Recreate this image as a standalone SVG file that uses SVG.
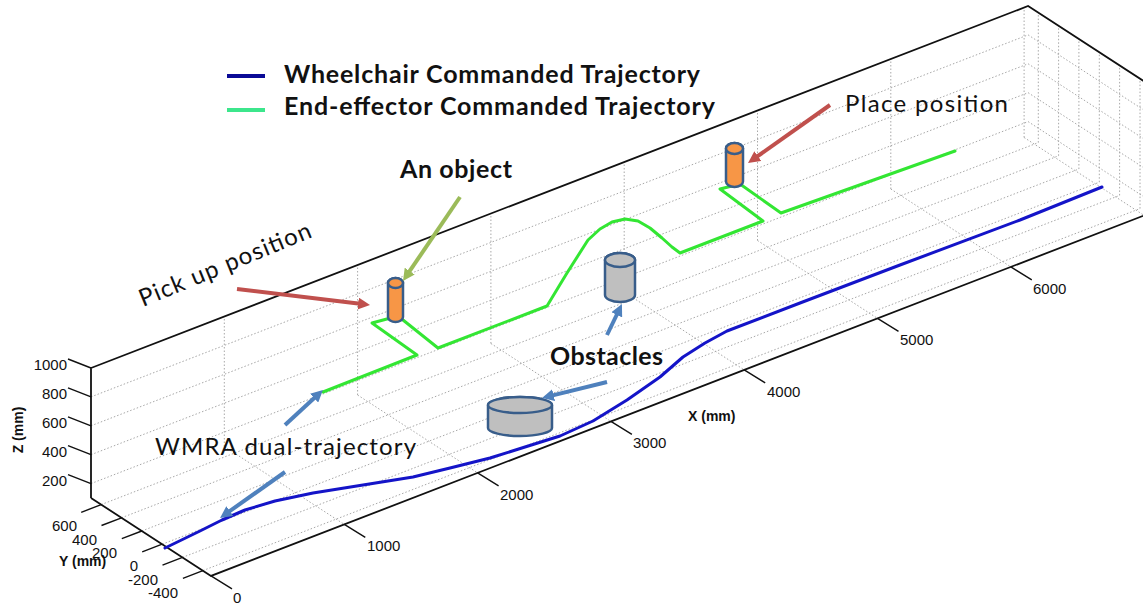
<svg xmlns="http://www.w3.org/2000/svg" width="1143" height="609" viewBox="0 0 1143 609">
  <style>
    .grid { fill: none; stroke: #a8a8a8; stroke-width: 1; stroke-dasharray: 1.5 2; }
    .edge { fill: none; stroke: #111; stroke-width: 1.8; }
    .tick { fill: none; stroke: #111; stroke-width: 1.4; }
    .num { font-family: "Liberation Sans", Arial, sans-serif; font-size: 15px; fill: #111; }
    .axlab { font-family: "Liberation Sans", Arial, sans-serif; font-size: 14px; font-weight: bold; fill: #111; }
    .note { font-family: Lato, "Open Sans", sans-serif; font-size: 24px; fill: #111; }
    .noteb { font-family: Lato, "Open Sans", sans-serif; font-size: 25px; font-weight: bold; fill: #111; }
    .traj { fill: none; stroke-width: 3; stroke-linejoin: round; stroke-linecap: round; }
    .arrow { fill: none; stroke-width: 4; stroke-linecap: butt; }
    .cyl { stroke: #385d8a; stroke-width: 2.5; stroke-linejoin: round; }
  </style>
  <defs>
    <marker id="headBlue" viewBox="0 0 3 3" refX="0.5" refY="1.5" markerWidth="3" markerHeight="3" orient="auto">
      <path d="M0,0 L3,1.5 L0,3 z" fill="#4f81bd"/>
    </marker>
    <marker id="headRed" viewBox="0 0 3 3" refX="0.5" refY="1.5" markerWidth="3" markerHeight="3" orient="auto">
      <path d="M0,0 L3,1.5 L0,3 z" fill="#c0504d"/>
    </marker>
    <marker id="headGreen" viewBox="0 0 3 3" refX="0.5" refY="1.5" markerWidth="3" markerHeight="3" orient="auto">
      <path d="M0,0 L3,1.5 L0,3 z" fill="#9bbb59"/>
    </marker>
  </defs>

  <rect width="1143" height="609" fill="#fff"/>

  <!-- dotted grid on back wall, floor and right wall -->
  <g id="grid">
    <path class="grid" d="M224.3,446.5V316.5 M357.6,395V265 M490.9,343.5V213.5 M624.2,292V162 M757.5,240.5V110.5 M890.8,189V59 M1024.1,137.5V7.5"/>
    <path class="grid" d="M91,483.6L1028.1,121.6 M91,454.7L1028.1,92.7 M91,425.8L1028.1,63.8 M91,396.9L1028.1,34.9"/>
    <path class="grid" d="M101.2,504.6L1038.3,142.6 M121.5,517.8L1058.6,155.8 M141.8,531L1078.9,169 M162.2,544.2L1099.3,182.2 M182.5,557.4L1119.6,195.4 M202.9,570.6L1140,208.6"/>
    <path class="grid" d="M224.3,446.5L344.3,524.4 M357.6,395L477.6,472.9 M490.9,343.5L610.9,421.4 M624.2,292L744.2,369.9 M757.5,240.5L877.5,318.4 M890.8,189L1010.8,266.9 M1024.1,137.5L1144.1,215.4"/>
    <path class="grid" d="M1038.3,142.6V12.6 M1058.6,155.8V25.8 M1078.9,169V39 M1099.3,182.2V52.2 M1119.6,195.4V65.4 M1140,208.6V78.6"/>
    <path class="grid" d="M1028.1,121.6L1148.1,199.5 M1028.1,92.7L1148.1,170.6 M1028.1,63.8L1148.1,141.7 M1028.1,34.9L1148.1,112.8"/>
  </g>

  <!-- axes box -->
  <g id="axes">
    <path class="edge" d="M91,498V368 L1028.1,6 L1148.1,83.9"/>
    <path class="edge" d="M91,498L211,575.9L1148.1,213.9"/>
    <path class="tick" d="M91,483.6l-23,-9 M91,454.7l-23,-9 M91,425.8l-23,-9 M91,396.9l-23,-9 M91,368l-23,-9"/>
    <path class="tick" d="M101.2,504.6l-20,7.7 M121.5,517.8l-20,7.7 M141.8,531l-20,7.7 M162.2,544.2l-20,7.7 M182.5,557.4l-20,7.7 M202.9,570.6l-20,7.7"/>
    <path class="tick" d="M211,575.9l21,13 M344.3,524.4l21,13 M477.6,472.9l21,13 M610.9,421.4l21,13 M744.2,369.9l21,13 M877.5,318.4l21,13 M1010.8,266.9l21,13"/>
    <g class="num" text-anchor="end">
      <text x="67" y="370">1000</text>
      <text x="67" y="399">800</text>
      <text x="67" y="428">600</text>
      <text x="67" y="457">400</text>
      <text x="67" y="486">200</text>
      <text x="77" y="531">600</text>
      <text x="97" y="545">400</text>
      <text x="117" y="558">200</text>
      <text x="138" y="571">0</text>
      <text x="158" y="585">-200</text>
      <text x="178" y="598">-400</text>
    </g>
    <g class="num">
      <text x="233" y="603">0</text>
      <text x="367" y="551">1000</text>
      <text x="500" y="500">2000</text>
      <text x="633" y="448">3000</text>
      <text x="767" y="397">4000</text>
      <text x="900" y="345">5000</text>
      <text x="1033" y="294">6000</text>
    </g>
    <text class="axlab" transform="translate(23,430) rotate(-90)" text-anchor="middle">Z (mm)</text>
    <text class="axlab" x="59" y="566">Y (mm)</text>
    <text class="axlab" x="688" y="421">X (mm)</text>
  </g>

  <!-- wheelchair path on the floor -->
  <g id="wheelchair-trajectory">
    <polyline class="traj" stroke="#1414c8" points="165,548 200,531 222,520 245,510 275,501 313,493 363,485 413,477 450,468 490,458 525,447 560,436 593,421 627,400 660,377 683,357 705,343 727,331 800,303 900,265 1020,220 1102,187"/>
  </g>

  <!-- end-effector path -->
  <g id="end-effector-trajectory">
    <polyline class="traj" stroke="#33e633" points="323,392 417,355 372,323 398,316 438,348 547,306 567,273 588,240 600,229 612,222 625,219 638,221 650,228 662,238 672,247 680,253 763,221 720,189 740,184 781,213 955,151"/>
  </g>

  <!-- objects -->
  <g id="pickup-object">
    <path class="cyl" fill="#f79646" d="M388,283 V317 A7.5,5 0 0 0 403,317 V283 A7.5,5 0 0 0 388,283 Z"/>
    <ellipse class="cyl" fill="#f79646" cx="395.5" cy="283" rx="7.5" ry="5"/>
  </g>
  <g id="place-object">
    <path class="cyl" fill="#f79646" d="M726,148.5 V181.5 A8.5,5.5 0 0 0 743,181.5 V148.5 A8.5,5.5 0 0 0 726,148.5 Z"/>
    <ellipse class="cyl" fill="#f79646" cx="734.5" cy="148.5" rx="8.5" ry="5.5"/>
  </g>
  <g id="obstacle-small">
    <path class="cyl" fill="#bfbfbf" d="M605,260 V295 A15,7 0 0 0 635,295 V260 A15,7 0 0 0 605,260 Z"/>
    <ellipse class="cyl" fill="#bfbfbf" cx="620" cy="260" rx="15" ry="7"/>
  </g>
  <g id="obstacle-large">
    <path class="cyl" fill="#bfbfbf" d="M488,405 V428 A32,8 0 0 0 552,428 V405 A32,8 0 0 0 488,405 Z"/>
    <ellipse class="cyl" fill="#bfbfbf" cx="520" cy="405" rx="32" ry="8"/>
  </g>

  <!-- legend -->
  <g id="legend">
    <line x1="227" y1="76" x2="265" y2="76" stroke="#0a0a96" stroke-width="4"/>
    <line x1="227" y1="110" x2="265" y2="110" stroke="#3ce68c" stroke-width="4"/>
    <text class="noteb" x="284" y="83" textLength="416">Wheelchair Commanded Trajectory</text>
    <text class="noteb" x="284" y="115" textLength="431">End-effector Commanded Trajectory</text>
  </g>

  <!-- callout labels -->
  <g id="label-object"><text class="noteb" x="400" y="178" textLength="112">An object</text></g>
  <g id="label-place"><text class="note" x="845" y="112" textLength="163">Place position</text></g>
  <g id="label-pickup"><text class="note" transform="translate(143,307) rotate(-22.4)" textLength="184">Pick up position</text></g>
  <g id="label-obstacles"><text class="noteb" x="550" y="365" textLength="113">Obstacles</text></g>
  <g id="label-wmra"><text class="note" x="155" y="455" textLength="261">WMRA dual-trajectory</text></g>

  <!-- callout arrows -->
  <g id="connectors">
    <line class="arrow" stroke="#c0504d" marker-end="url(#headRed)" x1="237" y1="289" x2="360.1" y2="303.8"/>
    <line class="arrow" stroke="#9bbb59" marker-end="url(#headGreen)" x1="460" y1="197" x2="408.6" y2="272.7"/>
    <line class="arrow" stroke="#c0504d" marker-end="url(#headRed)" x1="830" y1="105" x2="756.2" y2="157.2"/>
    <line class="arrow" stroke="#4f81bd" marker-end="url(#headBlue)" x1="607" y1="335" x2="617.6" y2="313"/>
    <line class="arrow" stroke="#4f81bd" marker-end="url(#headBlue)" x1="607" y1="382" x2="551.7" y2="395.6"/>
    <line class="arrow" stroke="#4f81bd" marker-end="url(#headBlue)" x1="285" y1="425" x2="315.6" y2="396.8"/>
    <line class="arrow" stroke="#4f81bd" marker-end="url(#headBlue)" x1="285" y1="472" x2="228.2" y2="512.2"/>
  </g>
</svg>
